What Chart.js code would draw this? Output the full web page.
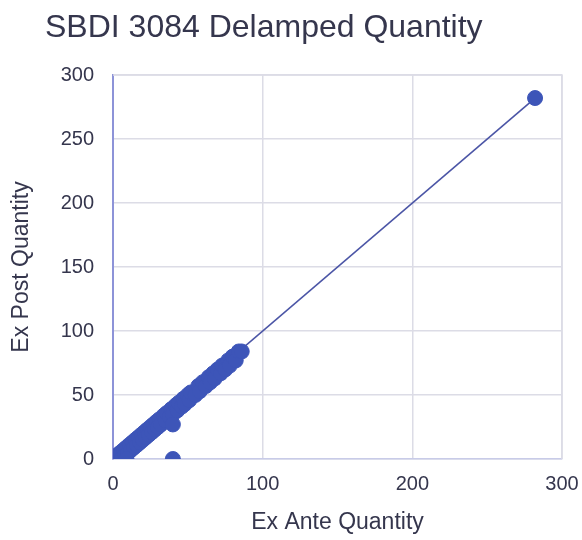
<!DOCTYPE html>
<html>
<head>
<meta charset="utf-8">
<script src="https://cdn.jsdelivr.net/npm/chart.js@4"></script>
<style>
  html, body { margin: 0; padding: 0; background: #ffffff; }
  #wrap { width: 582px; height: 540px; }
</style>
</head>
<body>
<div id="wrap"><canvas id="c" width="582" height="540"></canvas></div>
<script>
// Ex ante vs ex post delamped quantities
const exAnte = [0, 0, 2, 3, 4, 5, 6, 7, 8, 9, 10, 11, 12, 13, 14, 15, 16, 17, 18, 19, 20, 21, 22, 23, 24, 25, 26, 27, 28, 29, 30, 31, 32, 34, 35, 36, 38, 39, 40, 42, 43, 44, 46, 47, 48, 50, 51, 52, 55, 57, 58, 60, 62, 64, 65, 67, 68, 70, 72, 73, 75, 77, 78, 80, 82, 84, 86, 282, 9, 40, 40];
const exPost = [0, 2, 0, 3, 0, 5, 1, 7, 3, 9, 5, 11, 7, 13, 9, 15, 11, 17, 13, 19, 15, 21, 17, 23, 19, 25, 21, 27, 23, 29, 25, 31, 27, 34, 30, 36, 33, 39, 35, 42, 38, 44, 41, 47, 43, 50, 46, 52, 50, 57, 53, 60, 57, 64, 60, 67, 63, 70, 67, 73, 70, 77, 73, 80, 77, 84, 84, 282, 0, 27, 0];
// Linear trend line endpoints
const trendX = [0, 282];
const trendY = [0, 282];
const xTicks = [0, 100, 200, 300];
const yTicks = [0, 50, 100, 150, 200, 250, 300];

const titleText = 'SBDI 3084 Delamped Quantity';
const textColor = '#35364d';
const fontFamily = 'Arial, "Liberation Sans", sans-serif';

const pts = exAnte.map((x, i) => ({ x: x, y: exPost[i] }));
const trend = trendX.map((x, i) => ({ x: x, y: trendY[i] }));

const titlePlugin = {
  id: 'leftTitle',
  afterDraw(chart) {
    const ctx = chart.ctx;
    ctx.save();
    ctx.fillStyle = textColor;
    ctx.font = '32px ' + fontFamily;
    ctx.textBaseline = 'alphabetic';
    ctx.textAlign = 'left';
    ctx.fillText(titleText, 45, 37);
    ctx.restore();
  }
};

new Chart(document.getElementById('c'), {
  type: 'scatter',
  data: {
    datasets: [
      {
        label: 'Trend',
        data: trend,
        showLine: true,
        borderColor: '#4b55a6',
        borderWidth: 1.6,
        pointRadius: 0,
        fill: false,
        order: 2
      },
      {
        label: 'Quantity',
        data: pts,
        backgroundColor: '#3d55b8',
        borderColor: '#3d55b8',
        pointRadius: 7.5,
        pointHoverRadius: 7.5,
        order: 1
      }
    ]
  },
  options: {
    responsive: false,
    animation: false,
    devicePixelRatio: 1,
    layout: { padding: { top: 75, right: 20, left: 0, bottom: 0 } },
    plugins: {
      legend: { display: false },
      tooltip: { enabled: false },
      title: { display: false }
    },
    scales: {
      x: {
        type: 'linear',
        min: 0,
        max: 300,
        afterBuildTicks(scale) { scale.ticks = xTicks.map(v => ({ value: v })); },
        afterFit(scale) {
          scale.height = 81;
          scale.paddingLeft = 0;
          scale.paddingRight = 0;
        },
        ticks: { color: textColor, font: { family: fontFamily, size: 20 }, padding: 13, maxRotation: 0 },
        grid: { color: '#dcdce6', lineWidth: 1.5, drawTicks: false },
        border: { color: '#c8cbe8', width: 1.5 },
        title: {
          display: true,
          text: 'Ex Ante Quantity',
          color: textColor,
          font: { family: fontFamily, size: 23 },
          padding: { top: 4, bottom: 4 }
        }
      },
      y: {
        type: 'linear',
        min: 0,
        max: 300,
        afterBuildTicks(scale) { scale.ticks = yTicks.map(v => ({ value: v })); },
        afterFit(scale) {
          scale.width = 113;
          scale.paddingTop = 0;
          scale.paddingBottom = 0;
        },
        ticks: { color: textColor, font: { family: fontFamily, size: 20 }, padding: 19 },
        grid: { color: '#dcdce6', lineWidth: 1.5, drawTicks: false },
        border: { color: '#8d93d8', width: 2 },
        title: {
          display: true,
          text: 'Ex Post Quantity',
          color: textColor,
          font: { family: fontFamily, size: 23 },
          padding: { top: 8, bottom: 4 }
        }
      }
    }
  },
  plugins: [titlePlugin, {
    id: 'frame',
    afterDatasetsDraw(chart) {
      const a = chart.chartArea, ctx = chart.ctx;
      ctx.save();
      ctx.strokeStyle = '#dcdce6';
      ctx.lineWidth = 1.5;
      ctx.beginPath();
      ctx.moveTo(a.left, a.top);
      ctx.lineTo(a.right, a.top);
      ctx.lineTo(a.right, a.bottom);
      ctx.stroke();
      ctx.restore();
    }
  }]
});
</script>
</body>
</html>
